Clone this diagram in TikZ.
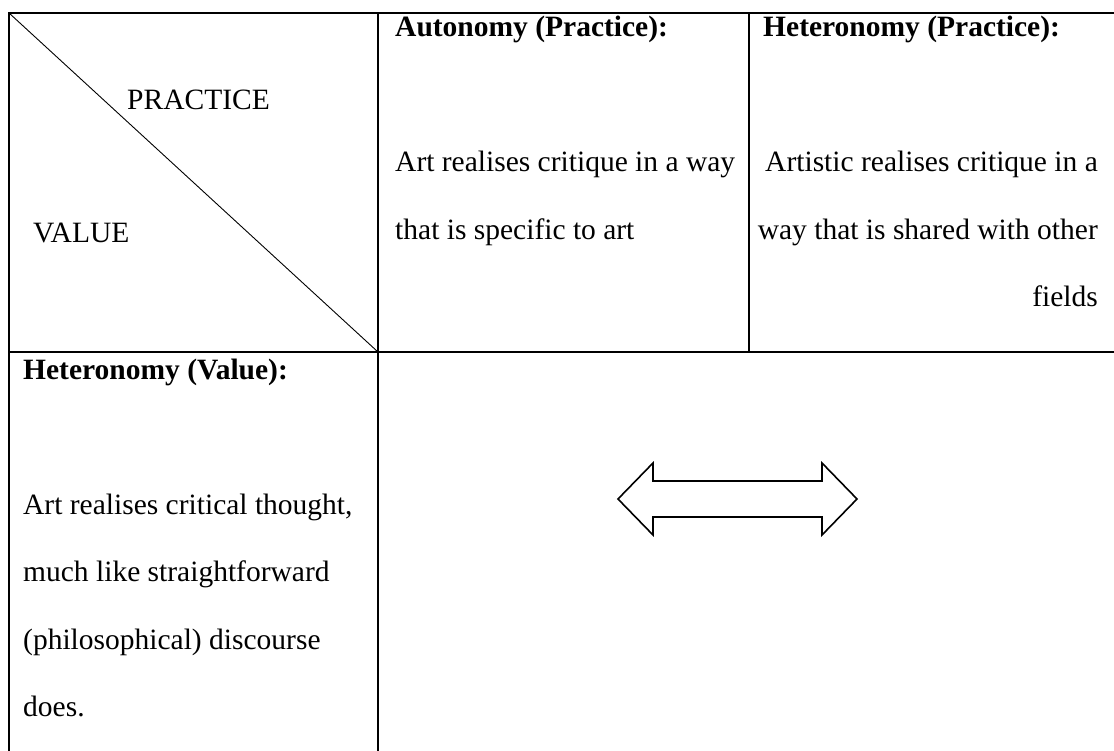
\documentclass[tikz,border=0pt]{standalone}
\usepackage{fontspec}
\setmainfont{Liberation Serif}
\begin{document}
\begin{tikzpicture}[x=1pt,y=-1pt,
  txt/.style={inner sep=0pt,font=\fontsize{29.5}{35}\selectfont},
  ttl/.style={txt,font=\fontsize{29.5}{35}\selectfont\bfseries},
  tline/.style={line width=1.6pt,line cap=rect},
  diag/.style={line width=0.9pt},
  dblarrow/.style={line width=1.6pt,line join=miter}]
\useasboundingbox (0,0) rectangle (1114,751);
% grid corners
\coordinate (tl) at (9,13);
\coordinate (tr) at (1114,13);
\coordinate (c1t) at (378,13);
\coordinate (c1b) at (378,751);
\coordinate (c2t) at (749,13);
\coordinate (c2m) at (749,352);
\coordinate (ml) at (9,352);
\coordinate (mm) at (378,352);
\coordinate (mr) at (1114,352);
\coordinate (bl) at (9,751);
% table lines
\draw[tline] (tl) -- (tr);
\draw[tline] (tl) -- (bl);
\draw[tline] (c1t) -- (c1b);
\draw[tline] (c2t) -- (c2m);
\draw[tline] (ml) -- (mr);
\draw[diag] (tl) -- (mm);
% corner header
\node[txt,anchor=base west] (practice) at (127,110) {PRACTICE};
\node[txt,anchor=base west] (value) at (33,243) {VALUE};
% column 2
\node[ttl,anchor=base west] (autp) at (395,37) {Autonomy (Practice):};
\node[txt,anchor=base west] (aut1) at (395,172) {Art realises critique in a way};
\node[txt,anchor=base west] (aut2) at (395,240) {that is specific to art};
% column 3
\node[ttl,anchor=base west] (hetp) at (763,37) {Heteronomy (Practice):};
\node[txt,anchor=base east] (het1) at (1098,172) {Artistic realises critique in a};
\node[txt,anchor=base east] (het2) at (1098,240) {way that is shared with other};
\node[txt,anchor=base east] (het3) at (1098,307) {fields};
% bottom-left
\node[ttl,anchor=base west] (hetv) at (23,379) {Heteronomy (Value):};
\node[txt,anchor=base west] (hv1) at (23,514) {Art realises critical thought,};
\node[txt,anchor=base west] (hv2) at (23,581) {much like straightforward};
\node[txt,anchor=base west] (hv3) at (23,649) {(philosophical) discourse};
\node[txt,anchor=base west] (hv4) at (23,716) {does.};
% double arrow
\draw[dblarrow] (618,499) -- (653,463) -- (653,481) -- (822,481) -- (822,463)
  -- (857,499) -- (822,535) -- (822,517) -- (653,517) -- (653,535) -- cycle;
\end{tikzpicture}
\end{document}
